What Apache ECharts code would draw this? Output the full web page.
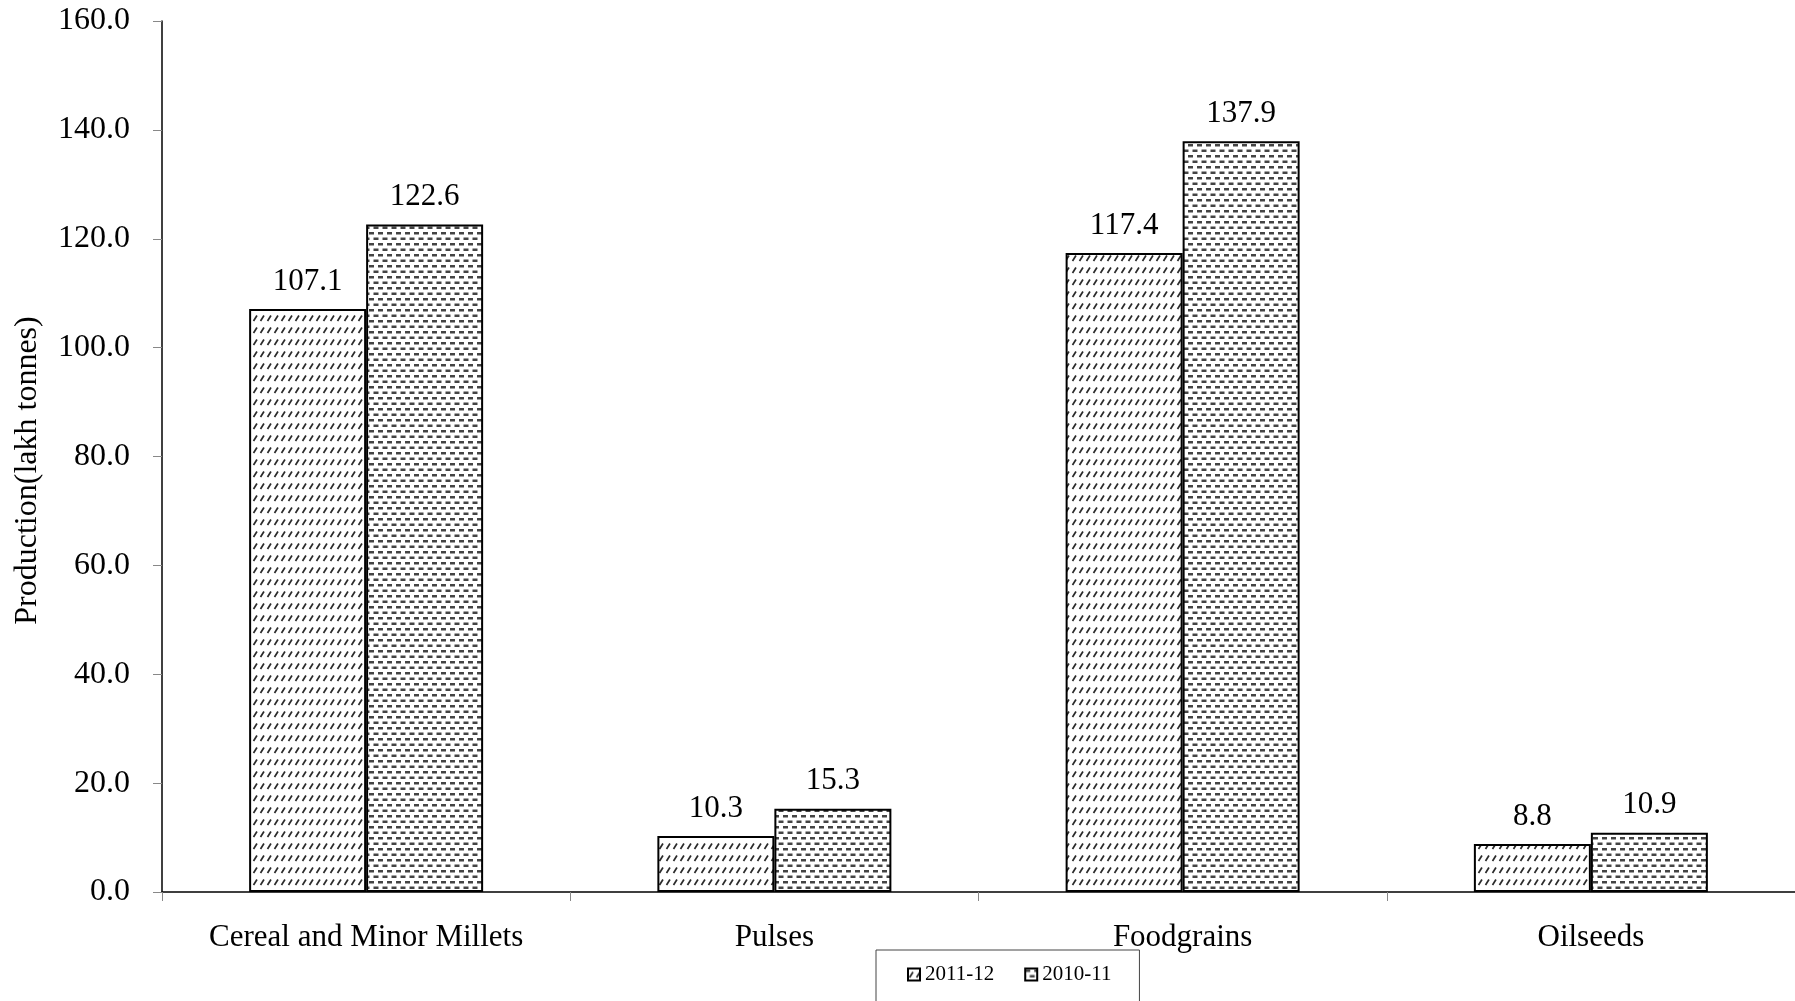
<!DOCTYPE html>
<html>
<head>
<meta charset="utf-8">
<script src="https://cdn.jsdelivr.net/npm/echarts@6/dist/echarts.min.js"></script>
<style>
html,body{margin:0;padding:0;background:#fff;}
#chart{width:1795px;height:1001px;}
</style>
</head>
<body>
<div id="chart"></div>
<script>
const categories = ['Cereal and Minor Millets', 'Pulses', 'Foodgrains', 'Oilseeds'];
const seriesNames = ['2011-12', '2010-11'];
const values2011 = [107.1, 10.3, 117.4, 8.8];
const values2010 = [122.6, 15.3, 137.9, 10.9];
const yTicks = { min: 0, max: 160, interval: 20 };

function makePattern1() {
  const c = document.createElement('canvas');
  c.width = 7; c.height = 12;
  const g = c.getContext('2d');
  g.fillStyle = '#fff'; g.fillRect(0, 0, 7, 12);
  g.strokeStyle = '#2a2a2a'; g.lineWidth = 1.7;
  g.beginPath();
  g.moveTo(1.5, 9); g.lineTo(5, 3.5);
  g.stroke();
  return c;
}
function makePattern2() {
  const c = document.createElement('canvas');
  c.width = 9; c.height = 11;
  const g = c.getContext('2d');
  g.fillStyle = '#fff'; g.fillRect(0, 0, 9, 11);
  g.fillStyle = '#444';
  g.fillRect(0, 1, 5, 2.5);
  g.fillRect(4.5, 6.5, 5, 2.5);
  g.fillRect(-4.5, 6.5, 5, 2.5);
  return c;
}
const fontFam = "'Liberation Serif','Times New Roman',serif";
const chart = echarts.init(document.getElementById('chart'));
const labelStyle = {
  show: true, position: 'top', distance: 12,
  fontFamily: fontFam, fontSize: 31, color: '#000',
  formatter: p => p.value.toFixed(1)
};
chart.setOption({
  backgroundColor: '#fff',
  animation: false,
  textStyle: { fontFamily: fontFam },
  grid: { left: 162, right: 0, top: 21, bottom: 109, containLabel: false },
  legend: {
    left: 876, top: 950,
    padding: [14, 28, 40, 31],
    itemGap: 30, itemWidth: 12, itemHeight: 12,
    borderColor: '#444', borderWidth: 1,
    icon: 'rect',
    textStyle: { fontFamily: fontFam, fontSize: 21, color: '#000' },
    data: seriesNames
  },
  xAxis: {
    type: 'category', data: categories,
    axisLine: { lineStyle: { color: '#000', width: 1.5 } },
    axisTick: { show: true, interval: 0, length: 9, lineStyle: { color: '#888' } },
    axisLabel: { interval: 0, hideOverlap: false, fontFamily: fontFam, fontSize: 31, color: '#000', margin: 30 }
  },
  yAxis: {
    type: 'value', min: yTicks.min, max: yTicks.max, interval: yTicks.interval,
    name: 'Production(lakh tonnes)', nameLocation: 'middle', nameGap: 118,
    nameTextStyle: { fontFamily: fontFam, fontSize: 32, color: '#000', padding: [0, 28, 0, 0] },
    axisLine: { show: true, lineStyle: { color: '#000', width: 1.5 } },
    axisTick: { show: true, length: 9, lineStyle: { color: '#888' } },
    splitLine: { show: false },
    axisLabel: { fontFamily: fontFam, fontSize: 32, color: '#000', margin: 32,
      formatter: v => v.toFixed(1) }
  },
  series: [
    {
      name: seriesNames[0], type: 'bar', data: values2011,
      barWidth: 117, barGap: '0%',
      itemStyle: { color: { image: makePattern1(), repeat: 'repeat' }, borderColor: '#000', borderWidth: 2 },
      label: labelStyle
    },
    {
      name: seriesNames[1], type: 'bar', data: values2010,
      barWidth: 117, barGap: '0%',
      itemStyle: { color: { image: makePattern2(), repeat: 'repeat' }, borderColor: '#000', borderWidth: 2 },
      label: labelStyle
    }
  ]
});
</script>
</body>
</html>
